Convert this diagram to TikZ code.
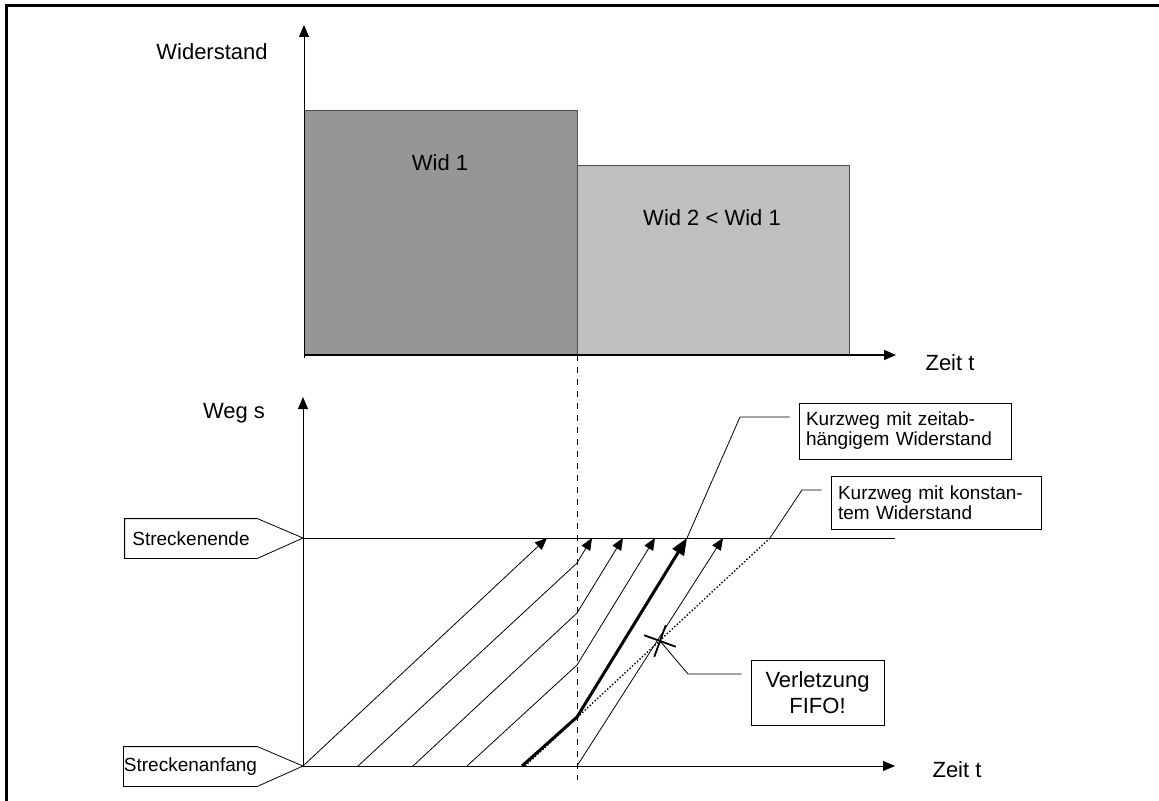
\documentclass[tikz,border=0pt]{standalone}
\usepackage{fontspec}
\setmainfont{Liberation Sans}
\usetikzlibrary{arrows.meta,shapes.misc}

\begin{document}
\begin{tikzpicture}[x=0.5pt,y=-0.5pt,
  pfeil/.style={-{Triangle[length=6pt,width=5pt]}},
  achse/.style={font=\fontsize{11}{13}\selectfont},
  notiz/.style={draw, fill=white, inner xsep=3.5pt, align=left, font=\fontsize{9.5}{10}\selectfont},
  marke/.style={minimum width=66pt, minimum height=19.5pt, inner sep=0pt, font=\fontsize{9.5}{11}\selectfont}]
\useasboundingbox (0,0) rectangle (1159,801);

% Rahmen
\draw[line width=1.5pt] (1159,6) -- (6,6) -- (6,801);

% Oberes Diagramm: Widerstand ueber Zeit
\draw[draw=black!70, fill=black!41] (304,110) rectangle (577,355);
\draw[draw=black!70, fill=black!25] (577,165) rectangle (849,355);
\node[achse] (w1) at (440,163) {Wid 1};
\node[achse] (w2) at (712,218) {Wid 2 < Wid 1};

\coordinate (o1) at (304,355);
\coordinate (y1) at (304,25);
\coordinate (t1) at (896,355);
\draw[pfeil] (304,358) -- (y1);
\draw[pfeil, line width=0.8pt] (o1) -- (t1);
\node[achse] (wlbl) at (212,52) {Widerstand};
\node[achse] (z1lbl) at (950,363) {Zeit t};

% Zeitpunkt des Wechsels
\draw[dashed] (577,355) -- (577,780);

% Unteres Diagramm: Weg ueber Zeit
\coordinate (o2) at (303,766);
\coordinate (y2) at (303,397);
\coordinate (t2) at (895,766);
\coordinate (e2) at (303,538);
\coordinate (e2r) at (895,538);
\draw[pfeil] (o2) -- (y2);
\draw[pfeil] (o2) -- (t2);
\draw (e2) -- (e2r);
\node[achse] (slbl) at (234,413) {Weg s};
\node[achse] (z2lbl) at (957,770) {Zeit t};

\node[marke] (ende) at (191,538.5) {Streckenende};
\draw (ende.north west) -- (ende.north east) -- (e2) -- (ende.south east) -- (ende.south west) -- cycle;
\node[marke] (anfang) at (190.5,766.5) {Streckenanfang};
\draw (anfang.north west) -- (anfang.north east) -- (o2) -- (anfang.south east) -- (anfang.south west) -- cycle;

% Fahrten
\draw[pfeil] (o2) -- (547,538);
\foreach \s/\k/\e in {358/563/592, 413/613/623, 467/665/655}
  \draw[pfeil] (\s,766) -- (577,\k) -- (\e,538);
\draw[pfeil] (577,766) -- (723,538);

% Kurzwege
\coordinate (kzend) at (687,538);
\coordinate (kkend) at (770,538);
\draw[line width=1.5pt, -{Triangle[length=8.5pt,width=6.5pt]}] (522,766) -- (577,717) -- (kzend);
\draw[densely dotted, line width=0.7pt] (525,766) -- (kkend);

\node[notiz, text width=99pt, minimum height=28pt] (kz1) at (905,431) {Kurzweg mit zeitab-\\hängigem Widerstand};
\node[notiz, text width=98pt, minimum height=26.5pt] (kz2) at (936,502.5) {Kurzweg mit konstan-\\tem Widerstand};
\coordinate (k1) at (740,417);
\coordinate (k2) at (802,490);
\draw[shorten >=4.5pt] (kzend) -- (k1) -- (k1 -| kz1.west);
\draw[shorten >=4.5pt] (kkend) -- (k2) -- (k2 -| kz2.west);

% FIFO
\node[cross out, draw, line width=0.9pt, minimum size=11pt, inner sep=0pt, rotate=25] (fx) at (660,641) {};
\node[draw, fill=white, align=center, minimum width=66.5pt, minimum height=32.5pt, font=\fontsize{11}{13}\selectfont] (fifo) at (817.5,692.5) {Verletzung\\FIFO!};
\coordinate (k3) at (688,674);
\draw[shorten >=4.5pt] (fx.center) -- (k3) -- (k3 -| fifo.west);
\end{tikzpicture}
\end{document}
